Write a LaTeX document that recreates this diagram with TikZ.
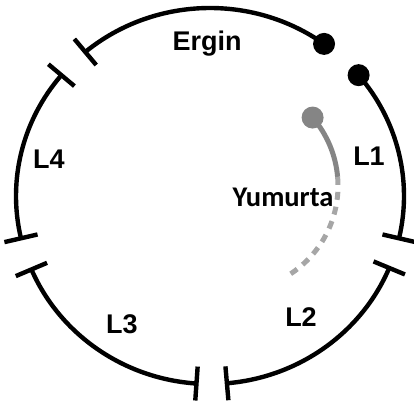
\documentclass[tikz,border=0pt]{standalone}
\usepackage{fontspec}
\setmainfont{Liberation Sans}
\newfontfamily\eggfont{Carlito}
\usetikzlibrary{positioning, calc}

\definecolor{eggdark}{HTML}{858585}
\definecolor{egglight}{HTML}{A6A6A6}

\begin{document}
\begin{tikzpicture}[
            x=1pt, y=1pt,
            wire/.style={line width=4.4pt, black},
            capline/.style={line width=4.4pt, black},
            knob/.style={circle, fill=black, minimum size=22pt, inner sep=0pt},
            eggknob/.style={circle, fill=eggdark, minimum size=22pt, inner sep=0pt},
            lab/.style={font=\fontsize{27}{30}\selectfont\bfseries, anchor=base, inner sep=0pt},
        ]
        \useasboundingbox (0,0) rectangle (414,400);

        \coordinate (O) at (210,204);
        \coordinate (E) at (233,214);

        % Draw the arcs of the ring
        \foreach \from / \to in {54/130, 140/193, 203/266, 275/337.5, -13/40}
        \draw[wire] (O) ++(\from:194 and 188)
            arc[start angle=\from, end angle=\to, x radius=194, y radius=188];

        % Draw the end bars
        \foreach \a in {130,140,193,203,266,275,337.5,347}
        \draw[capline] ($(O)+(\a:177 and 171)$) -- ($(O)+(\a:211 and 205)$);

        % Draw the end dots
        \node[knob] (ergin-end) at ($(O)+(54:194 and 188)$) {};
        \node[knob] (l1-end) at ($(O)+(40:194 and 188)$) {};

        % Draw the egg track
        \node[eggknob] (egg-end) at ($(E)+(40.7:105)$) {};
        \draw[line width=5pt, eggdark] (egg-end.center)
            arc[start angle=40.7, end angle=5, radius=105] coordinate (egg-mid);
        \draw[line width=5pt, egglight, dash pattern=on 8pt off 7pt] (egg-mid)
            arc[start angle=5, end angle=-60, radius=105];

        % Labels
        \node[lab] (ergin) at (207,350) {Ergin};
        \node[lab] (l4) at (49,232) {L4};
        \node[lab] (l1) at (369,235) {L1};
        \node[lab] (l3) at (122,67) {L3};
        \node[lab] (l2) at (301,74) {L2};
        \node[lab, font=\eggfont\fontsize{28.5}{31}\selectfont\bfseries] (yumurta) at (283,194) {Yumurta};
    \end{tikzpicture}
\end{document}
